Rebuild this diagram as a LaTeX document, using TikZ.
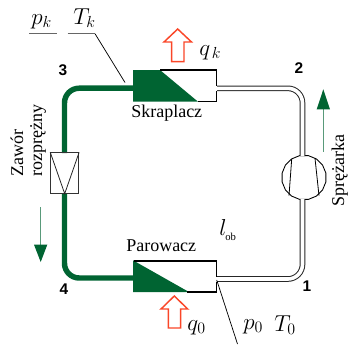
\documentclass[tikz,border=0pt]{standalone}
\usepackage{fontspec}
\setmainfont{Liberation Serif}
\newfontfamily\numfont{Liberation Sans}
\usetikzlibrary{shapes.geometric}
\definecolor{pipegreen}{RGB}{0,100,50}
\definecolor{heatred}{RGB}{250,70,40}
\tikzset{
  x=0.75pt,y=-0.75pt,
  pipecold/.style={draw=pipegreen,line width=4.1pt,rounded corners=11pt},
  pipehot/.style={draw=black!85,line width=0.75pt,double=white,double distance=2.7pt,rounded corners=11pt},
  boxline/.style={draw=black,line width=0.95pt},
  heat/.style={draw=heatred,fill=white,line width=1.1pt,miter limit=10},
  flow/.style={draw=pipegreen!65,line width=0.7pt},
  flowhead/.style={fill=pipegreen,draw=none},
  txt/.style={inner sep=0pt,anchor=base west,font=\fontsize{13.5}{14}\selectfont},
  rtxt/.style={inner sep=0pt,anchor=base west,rotate=90,font=\fontsize{13.5}{14}\selectfont},
  sym/.style={inner sep=0pt,anchor=base west,font=\fontsize{17.28}{18}\selectfont},
  num/.style={inner sep=0pt,anchor=center,font=\fontsize{11.6}{12}\selectfont\numfont\bfseries},
  lead/.style={draw=black,line width=0.55pt},
  under/.style={draw=black!60,line width=0.9pt}
}
\begin{document}
\begin{tikzpicture}
\useasboundingbox (0,0) rectangle (350,344);
% ports
\coordinate (c-in) at (133,88.2);
\coordinate (c-out) at (217,88.3);
\coordinate (e-in) at (133,278);
\coordinate (e-out) at (217,279);
\coordinate (v-top) at (64.5,153);
\coordinate (v-bot) at (64.5,193);
\node[regular polygon,regular polygon sides=16,minimum size=33.5pt,inner sep=0pt,draw=black,line width=0.65pt,fill=white,shape border rotate=0] (comp) at (304,177.5) {};
\coordinate (comp-top) at (302.5,156);
\coordinate (comp-bot) at (302.5,199);
% pipes
\draw[pipehot] (c-out) -| (comp-top);
\draw[pipehot] (e-out) -| (comp-bot);
\draw[pipecold] (c-in) -| (v-top);
\draw[pipecold] (e-in) -| (v-bot);
% compressor blades
\draw[black,line width=0.6pt] (291.7,159) -- (289,195.7);
\draw[black,line width=0.6pt] (315,158.3) -- (319,195.7);
% valve
\node[draw=black!80,line width=0.65pt,minimum width=21pt,minimum height=30.4pt,inner sep=0pt] (valve) at (64.7,173) {};
\draw[black!85,line width=0.6pt] (valve.north west) -- (valve.south) -- (valve.north east);
% condenser
\node[minimum width=63pt,minimum height=23.7pt,inner sep=0pt] (cond) at (175,85.8) {};
\fill[pipegreen] (133,70) -- (160,70) -- (198,101.7) -- (133,101.7) -- cycle;
\draw[boxline] (160,70) -- (216.7,70) -- (216.7,86);
\draw[boxline] (216.7,91) -- (216.7,101.7) -- (198,101.7);
% evaporator
\node[minimum width=63pt,minimum height=23.7pt,inner sep=0pt] (evap) at (175,276.5) {};
\fill[pipegreen] (133,260.3) -- (189,292) -- (133,292) -- cycle;
\draw[draw=black,line width=1.3pt] (134,261) -- (216.7,261);
\draw[boxline] (216.7,261) -- (216.7,277);
\draw[boxline] (216.7,281.5) -- (216.7,292) -- (187,292);
% heat arrows
\draw[heat] (177.7,29) -- (191.5,42) -- (184,42) -- (184,61.7) -- (171.7,61.7) -- (171.7,42) -- (164,42) -- cycle;
\draw[heat] (174.3,296) -- (187.7,309) -- (180.7,309) -- (180.7,328) -- (168.3,328) -- (168.3,309) -- (161,309) -- cycle;
% flow arrows
\coordinate (fl-a) at (40.7,207);
\coordinate (fl-b) at (40.7,246);
\draw[flow] (fl-a) -- (fl-b);
\fill[flowhead] (34,244.7) -- (47.3,244.7) -- (40.7,262) -- cycle;
\coordinate (fr-a) at (323.3,151.7);
\coordinate (fr-b) at (323.3,108);
\draw[flow] (fr-a) -- (fr-b);
\fill[flowhead] (316.7,109.3) -- (330,109.3) -- (323.3,89.3) -- cycle;
% leaders
\node[sym] (pk) at (31,24.5) {$p_{k}$};
\node[sym] (Tk) at (73,24.5) {$T_{k}$};
\coordinate (u1a) at (29,33.7);
\coordinate (u1b) at (56.5,33.7);
\coordinate (u2a) at (67.5,33.7);
\coordinate (u2b) at (95,33.7);
\coordinate (l1) at (125,82.5);
\coordinate (l2) at (216.7,280);
\coordinate (l3) at (237.5,344);
\draw[under] (u1a) -- (u1b);
\draw[under] (u2a) -- (u2b);
\draw[lead] (u2b) -- (l1);
\draw[lead] (l2) -- (l3);
% labels
\node[txt] (skr) at (131,117) {Skraplacz};
\node[txt] (par) at (126,251.5) {Parowacz};
\node[rtxt] (zaw) at (23,177) {Zawór};
\node[rtxt] (roz) at (42,177) {rozprężny};
\node[rtxt] (spr) at (344,207) {Sprężarka};
\node[sym] (qk) at (199,55) {$q_{\,k}$};
\node[sym] (q0) at (187,330) {$q_{0}$};
\node[sym] (p0) at (243,329) {$p_{0}$};
\node[sym] (T0) at (274,331) {$T_{0}$};
\node[sym] (lob) at (219,235) {$l$};
\node[inner sep=0pt,anchor=base west,font=\fontsize{8}{8}\selectfont] (ob) at (225,240) {ob};
\node[num] (n3) at (63,70) {3};
\node[num] (n2) at (299,68) {2};
\node[num] (n1) at (307,286) {1};
\node[num] (n4) at (64,289) {4};
\end{tikzpicture}
\end{document}
